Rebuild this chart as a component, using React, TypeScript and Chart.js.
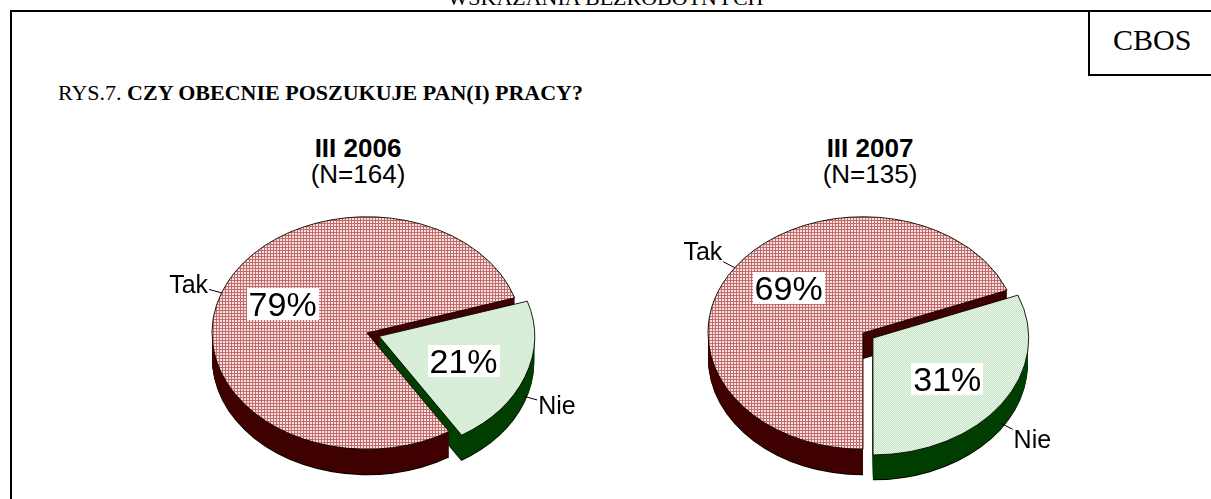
import React, { useEffect, useRef } from 'react';
import { Chart, registerables } from 'chart.js';

Chart.register(...registerables);

// ---- data ----
const categories = ['Tak', 'Nie'];
const values2006 = [79, 21];
const values2007 = [69, 31];
const pieTitles = ['III 2006', 'III 2007'];
const sampleSizes = ['(N=164)', '(N=135)'];
const figureLabel = 'RYS.7.';
const question = 'CZY OBECNIE POSZUKUJE PAN(I) PRACY?';
const headerText = 'WSKAZANIA BEZROBOTNYCH';
const sourceText = 'CBOS';

// ---- look ----
const TILT = 0.75;
const DEPTH = 25;
const RADIUS = 155;
const CANVAS_W = 440;
const CANVAS_H = 340;
const sideColors = ['#3f0000', '#003f00'];
const serif = '"Liberation Serif", "Times New Roman", serif';
const sans = '"Liberation Sans", Arial, sans-serif';

function makePattern(tile: string[][], cy: number) {
  const c = document.createElement('canvas');
  c.width = tile[0].length;
  c.height = tile.length;
  const g = c.getContext('2d')!;
  tile.forEach((row, y) =>
    row.forEach((col, x) => {
      g.fillStyle = col;
      g.fillRect(x, y, 1, 1);
    })
  );
  const p = g.createPattern(c, 'repeat')!;
  try {
    p.setTransform(new DOMMatrix([1, 0, 0, 1 / TILT, 0, (-cy * (1 - TILT)) / TILT]));
  } catch (e) {}
  return p;
}

const pie3d = {
  id: 'pie3d',
  beforeDatasetsDraw(chart: any) {
    const ctx = chart.ctx as CanvasRenderingContext2D;
    const arcs = chart.getDatasetMeta(0).data as any[];
    const cx0 = arcs[0].x;
    const cy0 = arcs[0].y;
    ctx.save();
    ctx.translate(cx0, cy0);
    ctx.scale(1, TILT);
    ctx.translate(-cx0, -cy0);
    for (let i = DEPTH + 1; i >= 1; i--) {
      arcs.forEach((arc, j) => {
        const mid = (arc.startAngle + arc.endAngle) / 2;
        const off = (arc.options.offset || 0) / 4;
        const x = arc.x + Math.cos(mid) * off;
        const y = arc.y + Math.sin(mid) * off + i / TILT;
        ctx.beginPath();
        ctx.moveTo(x, y);
        ctx.arc(x, y, arc.outerRadius, arc.startAngle, arc.endAngle);
        ctx.closePath();
        ctx.fillStyle = i === DEPTH + 1 ? '#000' : sideColors[j];
        ctx.fill();
      });
    }
  },
  afterDatasetsDraw(chart: any) {
    const ctx = chart.ctx as CanvasRenderingContext2D;
    ctx.restore();
    const arcs = chart.getDatasetMeta(0).data as any[];
    const data = chart.data.datasets[0].data as number[];
    const labels = chart.data.labels as string[];
    const cy0 = arcs[0].y;
    const sy = (y: number) => cy0 + (y - cy0) * TILT;
    arcs.forEach((arc, j) => {
      const mid = (arc.startAngle + arc.endAngle) / 2;
      const off = (arc.options.offset || 0) / 4;
      const cx = arc.x + Math.cos(mid) * off;
      const cyL = arc.y + Math.sin(mid) * off;
      const R = arc.outerRadius;
      // percentage label
      const px = cx + Math.cos(mid) * R * 0.58;
      const py = sy(cyL + Math.sin(mid) * R * 0.62) - (Math.sin(mid) < 0 ? 4 : 0);
      ctx.font = `34px ${sans}`;
      const txt = data[j] + '%';
      const w = ctx.measureText(txt).width;
      ctx.fillStyle = '#fff';
      ctx.fillRect(Math.round(px - w / 2 - 2), Math.round(py - 16), Math.round(w + 4), 32);
      ctx.fillStyle = '#000';
      ctx.textAlign = 'center';
      ctx.textBaseline = 'alphabetic';
      ctx.fillText(txt, px, py + 12);
      // category label with leader line
      const ax = cx + Math.cos(mid) * R;
      let ay = sy(cyL + Math.sin(mid) * R);
      if (Math.sin(mid) > 0.2) ay += DEPTH * 0.8;
      let ux = Math.cos(mid);
      let uy = Math.sin(mid) * TILT;
      const n = Math.hypot(ux, uy);
      ux /= n;
      uy /= n;
      const ex = ax + ux * 13;
      const ey = ay + uy * 13;
      ctx.strokeStyle = '#000';
      ctx.lineWidth = 1;
      ctx.beginPath();
      ctx.moveTo(ax, ay);
      ctx.lineTo(ex, ey);
      ctx.stroke();
      ctx.font = `25px ${sans}`;
      const lw = ctx.measureText(labels[j]).width;
      const t =
        Math.min(lw / 2 / Math.max(Math.abs(ux), 1e-6), 10 / Math.max(Math.abs(uy), 1e-6)) + 1;
      ctx.fillText(labels[j], ex + ux * t, ey + uy * t + 9);
    });
  },
};

function makeChart(canvas: HTMLCanvasElement, values: number[], rotation: number, explode: number) {
  const cy = CANVAS_H / 2;
  const takPattern = makePattern(
    [
      ['#c46a6a', '#c46a6a', '#c46a6a'],
      ['#c46a6a', '#f7e2e2', '#f7e2e2'],
      ['#c46a6a', '#f7e2e2', '#f7e2e2'],
    ],
    cy
  );
  const niePattern = makePattern(
    [
      ['#bcdfbc', '#f5fbf5'],
      ['#f5fbf5', '#bcdfbc'],
    ],
    cy
  );
  return new Chart(canvas, {
    type: 'pie',
    data: {
      labels: categories,
      datasets: [
        {
          data: values,
          backgroundColor: [takPattern, niePattern] as any,
          borderColor: '#000',
          borderWidth: 1,
          offset: [0, explode],
          clip: false as any,
        },
      ],
    },
    options: {
      responsive: false,
      animation: false,
      events: [],
      rotation,
      radius: RADIUS,
      layout: { padding: 0 },
      plugins: {
        legend: { display: false },
        tooltip: { enabled: false },
        title: { display: false },
      },
    } as any,
    plugins: [pie3d],
  });
}

const pieCenters = [
  { x: 367, y: 333, titleX: 358 },
  { x: 863, y: 333, titleX: 870 },
];

export default function App() {
  const leftRef = useRef<HTMLCanvasElement>(null);
  const rightRef = useRef<HTMLCanvasElement>(null);

  useEffect(() => {
    const charts = [
      makeChart(leftRef.current!, values2006, 148, 52),
      makeChart(rightRef.current!, values2007, 180, 48),
    ];
    return () => charts.forEach((c) => c.destroy());
  }, []);

  const refs = [leftRef, rightRef];

  return (
    <div style={{ position: 'fixed', left: 0, top: 0, width: 1211, height: 499, overflow: 'hidden', background: '#fff' }}>
      <div
        style={{
          position: 'absolute',
          left: 0,
          top: -13,
          width: 1211,
          textAlign: 'center',
          font: `22px/22px ${serif}`,
          whiteSpace: 'nowrap',
        }}
      >
        {headerText}
      </div>
      <div
        style={{
          position: 'absolute',
          left: 10,
          top: 10,
          width: 1300,
          height: 600,
          borderTop: '2px solid #000',
          borderLeft: '2px solid #000',
        }}
      />
      <div
        style={{
          position: 'absolute',
          left: 1088,
          top: 10,
          width: 200,
          height: 64,
          borderLeft: '2px solid #000',
          borderBottom: '2px solid #000',
        }}
      />
      <div style={{ position: 'absolute', left: 1113, top: 25, font: `30px/30px ${serif}`, whiteSpace: 'nowrap' }}>
        {sourceText}
      </div>
      <div style={{ position: 'absolute', left: 58, top: 82, font: `22px/22px ${serif}`, whiteSpace: 'nowrap' }}>
        {figureLabel} <b>{question}</b>
      </div>
      {pieCenters.map((p, i) => (
        <div
          key={'t' + i}
          style={{
            position: 'absolute',
            left: p.titleX - 150,
            top: 135,
            width: 300,
            textAlign: 'center',
            font: `26px/26px ${sans}`,
            whiteSpace: 'nowrap',
          }}
        >
          <b>{pieTitles[i]}</b>
          <br />
          {sampleSizes[i]}
        </div>
      ))}
      {pieCenters.map((p, i) => (
        <canvas
          key={'c' + i}
          ref={refs[i]}
          width={CANVAS_W}
          height={CANVAS_H}
          style={{
            position: 'absolute',
            left: p.x - CANVAS_W / 2,
            top: p.y - CANVAS_H / 2,
            width: CANVAS_W,
            height: CANVAS_H,
            display: 'block',
          }}
        />
      ))}
    </div>
  );
}
